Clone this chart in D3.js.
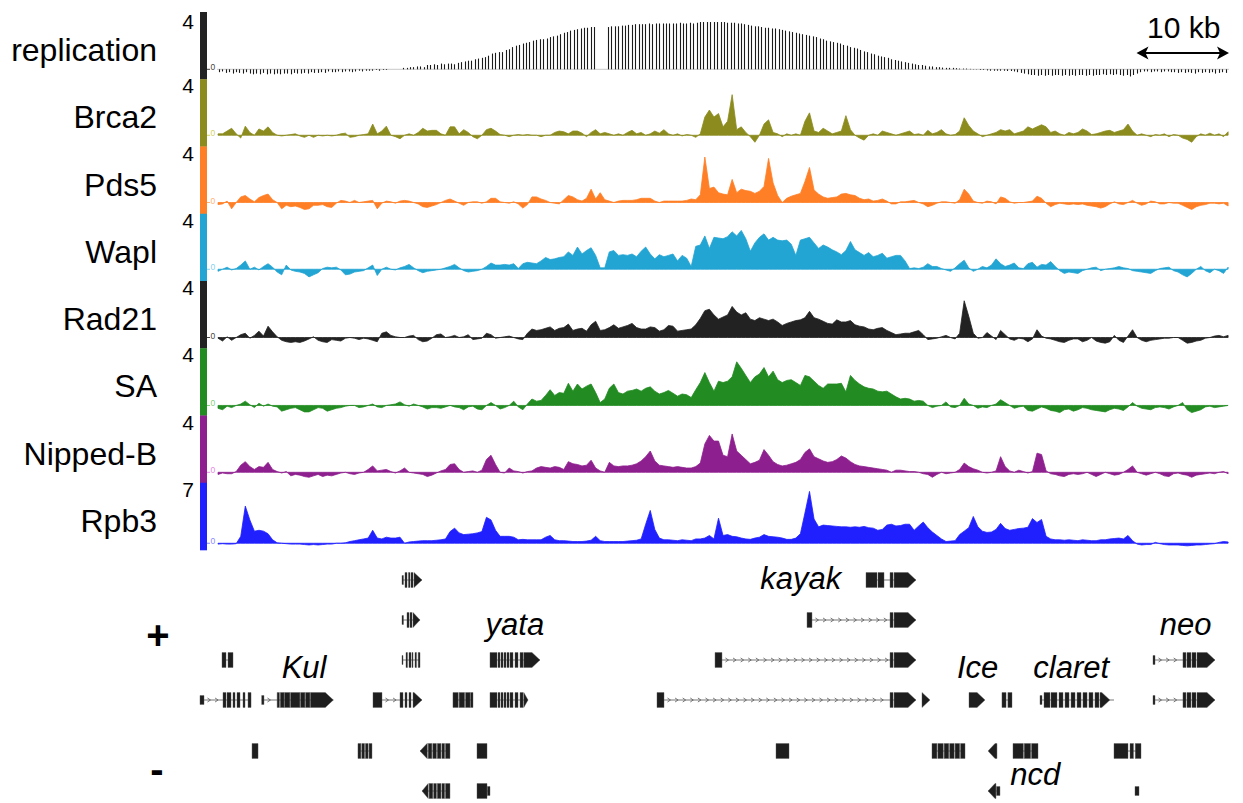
<!DOCTYPE html>
<html><head><meta charset="utf-8">
<script src="https://cdn.jsdelivr.net/npm/d3@7"></script>
<style>body{margin:0;background:#fff}svg{display:block}</style>
</head><body><svg id="c" width="1243" height="803"></svg>
<script>
// ---------------- DATA ----------------
const trackNames = ["replication","Brca2","Pds5","Wapl","Rad21","SA","Nipped-B","Rpb3"];
const trackMax = [4,4,4,4,4,4,4,7];
const trackColors = ["#222222","#8c8c1e","#ff7f27","#22a5d3","#222222","#228b22","#8e1f8e","#2020ff"];
const zeroColors = ["#444444","#d2d26a","#ffb27a","#86d2ee","#444444","#7fd07f","#e48ae4","#8a8aff"];
const signalStepKb = 0.5;   // signal samples every 0.5 kb
const repStepKb = 0.375, repStartKb = 0.1;

const replication = [
-0.2,-0.15,-0.25,-0.2,-0.3,-0.2,-0.25,-0.3,-0.2,-0.3,
-0.35,-0.3,-0.35,-0.25,-0.35,-0.3,-0.35,-0.3,-0.35,-0.3,
-0.3,-0.35,-0.25,-0.3,-0.3,-0.25,-0.3,-0.2,-0.25,-0.25,
-0.2,-0.25,-0.15,-0.2,-0.2,-0.15,-0.2,-0.15,-0.15,-0.2,
-0.15,-0.1,-0.15,-0.1,-0.1,-0.1,-0.05,-0.1,-0.05,-0.05,
null,null,null,null,0.1,0.1,0.15,0.15,0.2,0.2,
0.15,0.3,0.3,0.35,0.3,0.4,0.35,0.4,0.4,0.35,
0.45,0.5,0.55,0.6,0.6,0.7,0.75,0.8,0.85,0.95,
1.1,1.15,1.2,1.2,1.35,1.4,1.55,1.65,1.7,1.8,
1.85,1.9,2.0,2.05,2.1,2.1,2.15,2.25,2.3,2.35,
2.45,2.55,2.6,2.7,2.75,2.8,2.85,2.9,2.9,2.95,
2.95,null,null,null,2.95,3.0,3.0,3.0,3.05,3.05,
3.1,3.1,3.15,3.15,3.15,3.15,3.2,3.15,3.2,3.2,
3.2,3.2,3.2,3.2,3.2,3.25,3.2,3.2,3.25,3.2,
3.25,3.3,3.3,3.3,3.3,3.3,3.3,3.3,3.3,3.25,
3.25,3.25,3.2,3.2,3.15,3.1,3.05,3.0,3.0,2.95,
2.9,2.9,2.85,2.85,2.8,2.75,2.7,2.65,2.6,2.55,
2.5,2.45,2.4,2.35,2.3,2.25,2.15,2.1,2.0,1.95,
1.9,1.85,1.8,1.7,1.65,1.55,1.5,1.45,1.35,1.25,
1.2,1.1,1.05,0.95,0.9,0.85,0.8,0.7,0.65,0.6,
0.55,0.5,0.45,0.4,0.35,0.3,0.3,0.25,0.2,0.2,
0.15,0.15,0.12,0.1,0.1,0.1,0.08,0.05,0.05,0.05,
0.03,0.02,-0.02,-0.05,-0.05,-0.08,-0.1,-0.1,-0.1,-0.1,
-0.1,-0.12,-0.12,-0.15,-0.2,-0.25,-0.3,-0.35,-0.4,-0.4,
-0.45,-0.4,-0.45,-0.4,-0.45,-0.4,-0.4,-0.45,-0.4,-0.45,
-0.4,-0.45,-0.4,-0.4,-0.45,-0.4,-0.45,-0.4,-0.4,-0.35,
-0.4,-0.35,-0.4,-0.35,-0.4,-0.45,-0.4,-0.5,-0.4,-0.3,
-0.2,-0.15,-0.15,-0.2,-0.15,-0.15,-0.2,-0.15,-0.15,-0.2,
-0.2,-0.25,-0.2,-0.25,-0.2,-0.25,-0.3,-0.2,-0.25,-0.2,
-0.25,-0.2,-0.3,-0.25,-0.2,-0.25];

const brca2 = [
0.1,0.1,0.3,0.5,0.1,-0.2,0.65,0.2,0,0.45,
0.3,0.6,0.2,0,-0.05,0,0.05,0.1,-0.05,-0.15,
0,-0.15,0,-0.05,0,-0.05,0,0.1,0.15,-0.15,
-0.1,0,0.05,0.1,0.8,0.1,0.3,0.65,0,-0.1,
-0.25,0,0.1,0,0.2,0.5,0.3,0.35,0.35,0.1,
0,0.6,0.6,0.1,0.4,0.2,-0.1,-0.25,0,0.4,
0.5,0.3,0.05,0,-0.1,0,0.05,0,0.05,0,
0,-0.1,0,0,0.2,0.3,0.25,0.1,0.3,0.3,
0.15,-0.1,0.2,0.4,0.1,0.2,0.1,0,0.1,0,
0.2,0.35,0.1,0.2,0,0.1,0.3,0.15,0.4,0.1,
0,0.1,-0.05,0.05,0,-0.15,0.1,1.3,1.8,1.3,
1.55,0.6,1.0,2.9,0.4,0.6,0.2,-0.1,-0.5,0,
0.8,1.1,0.2,0.1,-0.1,0.1,0,0.1,0,1.0,
1.6,0.3,0.2,0.5,0.3,0.1,0.2,0.3,1.4,0.4,
0,-0.2,-0.35,0,0.1,0,0.3,0.2,0.1,0,
0.1,0.2,0.3,0.05,0.1,0,0.35,0.1,0.2,0.4,
0.1,0,0.05,0.3,1.25,0.7,0.3,0.1,-0.1,0,
0.1,0.2,0.4,0.3,0.4,0.1,0.2,0.3,0.6,0.45,
0.6,0.75,0.6,0.2,0.3,0.1,0,0.2,0.1,0.2,
0.45,0.3,0.05,0.1,0.2,0.3,0.35,0.2,0.3,0.4,
0.8,0.3,0,0.1,0,-0.1,0.05,0,0.1,-0.1,
0.05,0,-0.2,-0.3,-0.5,-0.1,0.1,0,0.15,0,
0.1,-0.1,0.25];

const pds5 = [
-0.15,-0.1,0.1,-0.45,0,0.4,0.5,0.25,0.05,0.35,
0.5,0.6,0.2,0,-0.45,-0.2,-0.3,-0.25,-0.35,-0.5,
-0.45,-0.2,-0.2,-0.15,-0.3,-0.35,-0.05,0.15,0.1,0,
0.15,0,0.05,0.1,0.15,-0.45,-0.05,0.1,0.05,-0.05,
0.1,0.15,0.1,0,-0.1,-0.3,-0.35,-0.25,-0.15,0,
0.15,0.25,0.1,-0.05,-0.2,0,0.05,0.05,-0.05,0.05,
0.3,0.3,0.05,0,-0.05,0.05,-0.1,-0.4,-0.15,0.4,
0.4,0.25,0.15,0,-0.05,-0.1,0.2,0.5,0.4,0.2,
0.1,0.3,0.95,0.25,0.7,0.2,0.1,0,0.1,0.15,
0.15,0.15,0.2,0.3,0.3,0.3,0.1,0,0.1,0.1,
0.1,0.1,0.1,0.15,0.25,0.2,0.55,3.25,1.0,1.1,
0.7,0.6,0.55,1.65,0.7,0.95,0.85,0.8,0.65,0.8,
1.15,3.15,1.4,0.5,0,0.3,0.45,0.55,0.65,1.5,
2.5,0.9,0.6,0.4,0.3,0.35,0.4,0.6,0.65,0.55,
0.5,0.3,0.2,0.25,0.1,0.15,0.25,0.1,-0.1,-0.1,
0.05,0.05,0.1,0.15,0,-0.1,-0.3,-0.2,-0.05,0.05,
0.05,0,-0.05,0.2,0.95,0.6,0.1,0,-0.05,0.1,
0.05,-0.1,0.4,0.3,0.05,-0.05,0,0,0.05,0.1,
0.45,0.3,-0.05,-0.3,-0.15,-0.05,-0.1,-0.15,-0.1,-0.15,
-0.1,-0.2,-0.25,-0.3,-0.4,-0.3,-0.1,0.05,-0.1,-0.15,
0,0.15,-0.05,-0.2,-0.1,0.1,0.05,-0.1,-0.1,0,
-0.05,-0.05,-0.2,-0.35,-0.5,-0.3,-0.2,-0.15,-0.05,-0.05,
-0.1,-0.05,-0.25];

const wapl = [
-0.15,0,0.15,-0.05,0.05,0.3,0.6,0,0.15,-0.05,
0.2,0.4,0.15,-0.2,-0.4,0.3,-0.05,-0.15,-0.2,-0.3,
-0.55,-0.4,-0.25,0.05,0.15,0.1,0.15,-0.05,-0.4,-0.35,
-0.2,-0.15,-0.1,0.1,0.3,-0.45,0,0.15,0,-0.05,
0.1,0.2,0.35,0.1,-0.1,-0.25,-0.15,-0.1,-0.05,0,
0.1,0.2,0.35,0.1,-0.1,-0.2,-0.15,-0.1,0,0.2,
0.45,0.3,0.3,0.35,0.3,0.4,0.05,0.4,0.5,0.45,
0.4,0.6,0.85,0.7,0.75,0.85,0.9,1.25,1.0,1.6,
1.1,1.35,1.55,1.0,0.1,0.1,1.25,1.35,1.0,1.05,
1.0,1.1,0.9,1.3,1.6,1.1,0.75,1.05,0.9,1.0,
1.1,0.6,1.0,0.8,0.2,1.65,1.75,2.4,1.5,2.3,
2.25,2.2,2.35,2.7,2.4,2.8,2.2,1.3,1.9,2.3,
2.55,2.1,2.3,2.1,2.05,2.1,1.8,1.0,2.1,2.2,
2.3,1.9,1.5,1.75,1.6,1.4,1.25,1.05,1.35,2.0,
1.4,1.2,1.0,1.2,0.9,1.0,1.15,0.8,0.9,1.0,
1.0,0.6,0.05,0.1,0.05,0.15,0.4,0.2,0.2,0.05,
-0.05,-0.15,0.1,0.4,0.65,0.1,-0.15,0,0.2,0.1,
0.3,0.75,0.4,0.2,0.3,0.45,0.1,0.05,0.4,0.5,
0.15,0.35,0.3,0.55,0.2,-0.1,-0.3,-0.2,-0.25,-0.3,
-0.1,0,0.1,0.15,-0.1,0,0.05,0.1,0.2,0.1,
0.05,-0.1,-0.15,-0.2,-0.25,-0.3,-0.1,0.05,0.1,0.15,
-0.1,-0.2,-0.4,-0.55,-0.3,0,0.2,-0.1,-0.25,0,
-0.1,-0.3,0.15];

const rad21 = [
-0.05,-0.25,0.05,-0.2,0,0.2,0.3,-0.05,0.15,0.45,
0.1,0.8,0.4,0.05,-0.2,-0.3,-0.35,-0.3,-0.35,-0.25,
-0.1,0.05,-0.2,-0.3,-0.35,-0.15,-0.2,-0.25,-0.05,0,
-0.05,-0.15,-0.05,-0.1,-0.2,-0.3,0.3,0.4,0.15,0.05,
0,0,0.1,0.15,-0.15,-0.3,-0.25,-0.05,0.2,0.25,
0,0.05,0.15,0,0.05,0.2,-0.15,-0.1,-0.05,0.3,
0.2,-0.05,0,0.05,0.1,0,-0.1,-0.15,0.3,0.6,
0.5,0.55,0.65,0.75,0.5,0.65,0.7,0.95,0.5,0.6,
0.65,0.45,0.9,1.15,0.5,0.55,0.7,0.9,0.65,0.75,
0.85,1.0,0.7,0.6,0.6,0.75,0.7,0.45,0.55,0.85,
0.8,0.45,0.5,0.55,0.6,0.9,1.35,1.9,2.0,1.6,
1.3,1.45,1.6,2.2,1.8,1.6,1.75,1.3,1.2,1.4,
1.3,1.2,1.3,1.1,0.85,1.0,1.1,1.2,1.25,1.4,
1.85,1.4,1.3,1.15,1.0,0.95,1.25,1.1,1.1,1.2,
0.9,0.8,0.75,0.6,0.55,0.65,0.7,0.5,0.35,0.2,
0.25,0.3,0.3,0.4,0.5,0.2,-0.15,-0.1,-0.05,0.05,
0.15,0,-0.1,0.3,2.6,1.5,0.3,-0.05,0,0.35,
0.1,-0.15,0.5,0.2,-0.1,-0.2,-0.05,-0.1,-0.3,-0.1,
0.55,0.1,-0.05,-0.1,-0.2,-0.3,-0.35,-0.2,-0.1,-0.1,
-0.3,-0.2,0,-0.25,-0.35,-0.4,-0.3,0.15,-0.2,-0.35,
0.1,0.55,0,-0.2,-0.3,-0.2,-0.15,-0.1,-0.05,-0.05,
0,0,-0.2,-0.4,-0.35,-0.25,-0.2,-0.05,0,0.1,
0.15,0.05,0.15];

const sa = [
-0.2,-0.3,-0.05,-0.15,0,0.1,0.3,0.05,-0.15,0.15,
-0.05,0.1,-0.05,-0.1,-0.4,-0.3,-0.2,-0.15,-0.3,-0.45,
-0.45,-0.3,-0.15,-0.2,-0.4,-0.3,-0.2,-0.15,-0.05,0,
0,-0.15,-0.1,0,0.1,-0.1,-0.15,0,0.05,0.1,
0.25,0.05,-0.05,0.1,0,-0.1,-0.25,-0.15,-0.15,-0.2,
-0.1,0,-0.1,-0.15,-0.3,-0.1,-0.05,-0.25,-0.3,0,
0.2,0,-0.25,-0.15,0,0.3,-0.1,-0.3,0.1,0.45,
0.3,0.35,0.7,1.1,0.7,0.9,0.85,1.55,1.0,1.5,
1.15,1.35,1.5,0.9,0.2,0.45,1.2,1.5,0.9,0.8,
1.0,1.05,1.15,1.0,1.2,1.3,1.0,0.8,0.9,1.05,
0.85,0.65,0.8,0.75,0.55,1.1,1.6,2.3,1.6,1.0,
1.7,1.6,1.7,2.0,3.05,2.6,2.1,1.6,2.0,2.2,
2.65,2.0,2.4,1.8,1.6,1.75,1.8,1.6,1.4,2.1,
2.0,1.7,1.4,1.2,1.5,1.5,1.5,1.55,0.95,2.1,
1.75,1.5,1.3,1.2,1.15,1.0,0.95,1.0,0.8,0.6,
0.45,0.5,0.45,0.3,0.35,0.3,0,-0.15,-0.05,0,
0.25,-0.1,-0.15,0,0.5,0.1,0,-0.2,-0.1,-0.15,
0,0.1,0.4,0.2,0,-0.2,-0.1,-0.05,-0.35,-0.4,
-0.25,-0.1,-0.2,-0.35,-0.4,-0.5,-0.3,-0.25,-0.4,-0.3,
-0.15,-0.2,-0.3,-0.35,-0.4,-0.45,-0.3,-0.2,-0.25,-0.35,
-0.1,0.2,-0.05,-0.2,-0.25,-0.3,-0.15,-0.1,-0.15,-0.25,
-0.1,0,0.2,-0.3,-0.5,-0.4,-0.3,-0.1,-0.05,-0.15,
-0.1,-0.05,0];

const nippedB = [
-0.15,-0.05,-0.1,-0.1,0.05,0.5,0.75,0.4,0.2,0.4,
0.35,0.7,0.2,0.05,-0.05,0.05,-0.25,-0.15,-0.2,-0.3,
-0.35,-0.25,-0.15,-0.3,-0.2,-0.25,-0.15,-0.05,0,-0.1,
-0.15,-0.05,0,0.2,0.45,0.1,0.15,0.2,0.05,-0.05,
0.1,0.3,0,-0.05,-0.1,-0.15,-0.3,-0.2,-0.05,0.1,
0.2,0.55,0.6,0.2,0,0.05,0.1,0,0.15,0.9,
1.2,0.55,0,-0.05,0.3,0.1,0.05,-0.05,0.05,0.1,
0.3,0.4,0.35,0.3,0.4,0.35,0.2,0.75,0.6,0.55,
0.45,0.5,0.85,0.3,0.1,0,0.7,0.45,0.4,0.45,
0.45,0.5,0.6,0.8,1.1,1.5,0.8,0.5,0.45,0.4,
0.35,0.4,0.35,0.3,0.3,0.4,0.65,2.0,2.6,2.2,
2.2,1.2,1.1,2.7,1.5,1.2,0.9,0.6,0.7,0.85,
1.6,1.2,0.75,0.55,0.45,0.5,0.6,0.7,0.9,1.4,
1.65,1.1,0.95,0.8,0.7,0.75,0.9,1.15,1.0,0.75,
0.55,0.45,0.4,0.35,0.3,0.25,0.2,0.15,0,0.15,
0.15,0.1,0.05,0.05,0,-0.1,-0.15,-0.35,-0.15,0,
-0.1,-0.05,0,0.2,0.65,0.4,0.25,0.15,0,-0.05,
0,0.1,1.1,0.4,0.1,0,0.15,0.05,-0.05,0.05,
1.35,1.25,0.1,-0.1,-0.15,-0.25,-0.3,-0.15,-0.1,-0.15,
-0.1,0,-0.15,-0.3,-0.15,0,-0.1,-0.2,-0.15,0,
0.2,0.45,0,-0.1,-0.2,-0.1,0,-0.1,-0.25,-0.3,
-0.1,-0.05,-0.15,-0.2,-0.35,-0.2,-0.15,-0.1,-0.05,-0.1,
0,0.05,-0.1];

const rpb3 = [
-0.1,-0.05,-0.1,-0.1,-0.05,0.8,4.3,2.7,1.4,1.5,
1.4,1.1,0.4,0.05,0,-0.05,-0.1,-0.1,-0.1,-0.15,
-0.2,-0.15,-0.2,-0.15,-0.1,-0.1,0,0,0.05,0.2,
0.3,0.4,0.5,0.6,1.5,0.6,0.5,0.7,0.6,0.6,
0.7,0,0.15,0.2,0.25,0.3,0.3,0.3,0.35,0.4,
0.5,1.35,1.75,1.2,1.0,1.05,1.1,1.2,1.35,3.0,
2.7,1.5,0.8,0.8,0.8,0.7,0.4,0.45,0.4,0.4,
0.4,0.4,0.7,0.9,0.4,0.3,0.3,0.25,0.2,0.2,
0.2,0.25,0.35,0.8,0.3,0.2,0.2,0.2,0.2,0.2,
0.25,0.3,0.35,0.5,2.2,3.8,1.6,0.6,0.4,0.4,
0.35,0.3,0.4,0.35,0.3,0.5,0.5,0.6,0.9,0.5,
2.9,0.9,1.0,0.8,0.75,0.6,0.5,0.45,0.6,0.7,
1.0,0.8,0.75,0.7,0.6,0.45,0.45,0.6,1.1,3.5,
6.0,2.8,1.9,2.1,2.05,2.0,1.95,1.9,1.9,1.85,
1.9,1.85,1.95,1.8,1.75,1.5,1.6,2.1,2.2,2.0,
2.05,2.2,2.2,1.5,2.0,2.45,1.8,1.3,0.9,0.5,
0.2,0.25,0.3,1.0,1.4,1.8,3.1,1.9,1.4,1.25,
1.3,1.6,2.3,1.7,1.5,1.6,1.7,1.75,1.85,2.85,
2.4,2.75,0.8,0.5,0.4,0.4,0.35,0.4,0.35,0.3,
0.4,0.35,0.3,0.3,0.4,0.4,0.5,0.55,0.6,0.5,
0.9,0.3,-0.1,-0.2,-0.15,-0.15,0.1,-0.05,-0.15,-0.2,
-0.2,-0.2,-0.25,-0.3,-0.25,-0.2,-0.2,-0.15,-0.1,-0.05,
0.1,0.2,0.15];

// gene models: row (0-3 plus strand, 4-5 minus strand), exons [startKb, endKb, isUTR], tip = pointed end
const geneRowsStrand = [1,1,1,1,-1,-1];
const genes = [
 {row:3, ex:[[-1.98,-1.54,1],[0.55,0.88],[0.99,1.43],[1.65,1.87],[2.09,2.42],[2.75,2.97],[3.30,3.63]]},
 {row:2, ex:[[0.44,0.88],[1.1,1.65]]},
 {row:3, tip:"r", ex:[[4.8,5.05,1],[6.5,6.75],[6.85,7.25],[7.3,7.9],[7.97,9.0],[9.07,9.55],[9.62,10.1],[10.16,12.67]]},
 {row:0, tip:"r", ex:[[20.22,20.38,1],[20.55,20.77],[20.93,21.1],[21.21,21.43],[21.54,22.42]]},
 {row:1, tip:"r", ex:[[20.22,20.38,1],[20.77,20.99],[21.1,21.32],[21.43,22.2]]},
 {row:2, ex:[[20.22,20.33,1],[20.66,20.82],[20.99,21.21],[21.32,21.43],[21.65,21.81],[22.0,22.2]]},
 {row:3, tip:"r", ex:[[17.03,18.02],[20.0,20.33],[20.55,20.77],[20.99,21.21],[21.43,22.42]]},
 {row:3, ex:[[25.82,26.4],[26.5,27.1],[27.2,27.7],[27.75,28.02]]},
 {row:2, tip:"r", ex:[[29.89,30.66],[30.77,30.99],[31.1,31.32],[31.43,31.65],[31.76,31.98],[32.09,32.42],[32.64,32.97],[33.19,33.52],[33.6,35.38]]},
 {row:3, tip:"r", ex:[[29.89,30.66],[30.77,30.99],[31.1,31.32],[31.43,31.65],[31.76,31.98],[32.09,32.42],[32.64,32.97],[33.19,33.52],[33.6,34.07]]},
 {row:0, tip:"r", ex:[[71.21,72.42],[72.53,73.19],[73.85,74.18],[74.29,76.70]]},
 {row:1, tip:"r", ex:[[64.73,65.27],[73.85,74.18],[74.29,76.70]]},
 {row:2, tip:"r", ex:[[54.62,55.38],[73.85,74.18],[74.29,76.70]]},
 {row:3, tip:"r", ex:[[48.24,49.01],[73.85,74.18],[74.29,76.70]]},
 {row:3, tip:"r", ex:[[77.36,78.24]]},
 {row:3, tip:"r", ex:[[82.53,84.29]]},
 {row:3, ex:[[86.15,86.6],[86.8,87.25]]},
 {row:3, tip:"r", end:98.46, ex:[[90.33,90.55,1],[90.77,91.43],[91.54,92.2],[92.42,92.86],[93.08,93.52],[93.74,94.18],[94.4,94.84],[95.05,95.5],[95.71,96.15],[96.37,96.81],[96.92,98.0]]},
 {row:2, tip:"r", ex:[[102.75,102.97,1],[106.04,106.37],[106.48,106.92],[107.03,107.47],[107.58,109.56]]},
 {row:3, tip:"r", ex:[[102.75,102.97,1],[106.04,106.37],[106.48,106.92],[107.03,107.47],[107.58,109.56]]},
 {row:4, ex:[[3.74,4.40]]},
 {row:4, ex:[[15.38,15.7],[15.8,16.1],[16.2,16.5],[16.6,16.92]]},
 {row:4, tip:"l", ex:[[22.2,23.0],[23.1,23.5],[23.6,24.0],[24.1,24.5],[24.6,24.9],[25.0,25.49]]},
 {row:4, ex:[[28.46,29.56]]},
 {row:5, tip:"l", ex:[[22.42,23.1],[23.2,23.6],[23.7,24.0],[24.1,24.5],[24.6,24.9],[25.0,25.49]]},
 {row:5, ex:[[28.46,29.56],[29.6,29.89,1]]},
 {row:4, ex:[[61.32,62.75]]},
 {row:4, ex:[[78.46,79.0],[79.1,79.7],[79.8,80.3],[80.4,80.9],[81.0,81.5],[81.6,82.09]]},
 {row:4, tip:"l", ex:[[84.62,85.6]]},
 {row:4, ex:[[87.36,88.5],[88.6,89.3],[89.4,90.11]]},
 {row:4, ex:[[98.46,100.0],[100.22,100.6],[100.8,101.43]]},
 {row:5, tip:"l", ex:[[84.62,85.49],[85.55,85.93,1]]},
 {row:5, ex:[[100.77,101.21,1]]}
];
const geneLabels = [
 {name:"kayak", kb:59.6, row:0, dy:9},
 {name:"yata", kb:29.4, row:1, dy:15},
 {name:"Kul", kb:7.0, row:2, dy:18},
 {name:"neo", kb:103.5, row:1, dy:15},
 {name:"Ice", kb:81.2, row:2, dy:18},
 {name:"claret", kb:89.6, row:2, dy:18},
 {name:"ncd", kb:87.05, row:5, dy:-6}
];
const scaleBarKb = 10;

// ---------------- DRAW ----------------
const svg = d3.select("#c");
const FONT = "'Liberation Sans', Arial, Helvetica, sans-serif";
const x = d3.scaleLinear().domain([0, 111]).range([218, 1228.1]);
const TOP = 12, TH = 67.25;
const signals = [replication, brca2, pds5, wapl, rad21, sa, nippedB, rpb3];
const baseOff = [57.3, 56, 56, 55.5, 56.5, 57.2, 56.8, 60.5];

signals.forEach((data, k) => {
  const top = TOP + k * TH, base = top + baseOff[k];
  const y = d3.scaleLinear().domain([0, trackMax[k]]).range([base, top]);
  svg.append("rect").attr("x", 200).attr("y", top).attr("width", 7).attr("height", TH + 0.3)
     .attr("fill", trackColors[k]);
  svg.append("text").attr("x", 157).attr("y", top + 49).attr("text-anchor", "end")
     .attr("font-family", FONT).attr("font-size", 32).attr("fill", "#000").text(trackNames[k]);
  svg.append("text").attr("x", 194).attr("y", top + (k === 0 ? 17 : 14)).attr("text-anchor", "end")
     .attr("font-family", FONT).attr("font-size", 21).attr("fill", "#000").text(trackMax[k]);
  svg.append("line").attr("x1", 207).attr("x2", 210).attr("y1", base).attr("y2", base)
     .attr("stroke", zeroColors[k]).attr("stroke-width", 1);
  svg.append("text").attr("x", 210.5).attr("y", base + 1).attr("font-family", FONT).attr("font-size", 8.5)
     .attr("fill", zeroColors[k]).text("0");
  if (k === 0) {
    svg.append("line").attr("x1", 217).attr("x2", 1229).attr("y1", base).attr("y2", base)
       .attr("stroke", "#c8c8c8").attr("stroke-width", 1);
    svg.append("g").selectAll("line").data(data.map((v, j) => ({kb: repStartKb + j * repStepKb, v})).filter(d => d.v !== null))
      .join("line")
      .attr("x1", d => Math.round(x(d.kb)) + 0.5).attr("x2", d => Math.round(x(d.kb)) + 0.5)
      .attr("y1", y(0)).attr("y2", d => y(d.v))
      .attr("stroke", "#1a1a1a").attr("stroke-width", 1.1);
  } else {
    const pts = data.map((v, i) => [i * signalStepKb, v]);
    const area = d3.area().x(d => x(d[0])).y0(y(0)).y1(d => y(d[1]));
    svg.append("path").datum(pts).attr("d", area).attr("fill", trackColors[k])
       .attr("stroke", trackColors[k]).attr("stroke-width", 0.8).attr("stroke-linejoin", "round");
  }
});

// scale bar
const sbY = 53, sbL = 1136.5, sbR = 1229;
svg.append("line").attr("x1", sbL + 6).attr("x2", sbR - 6).attr("y1", sbY).attr("y2", sbY)
   .attr("stroke", "#000").attr("stroke-width", 2.2);
svg.append("path").attr("d", `M${sbL},${sbY} L${sbL + 12},${sbY - 6.5} L${sbL + 9},${sbY} L${sbL + 12},${sbY + 6.5} Z`).attr("fill", "#000");
svg.append("path").attr("d", `M${sbR},${sbY} L${sbR - 12},${sbY - 6.5} L${sbR - 9},${sbY} L${sbR - 12},${sbY + 6.5} Z`).attr("fill", "#000");
svg.append("text").attr("x", (sbL + sbR) / 2 + 1).attr("y", 37.5).attr("text-anchor", "middle")
   .attr("font-family", FONT).attr("font-size", 30).text(scaleBarKb + " kb");

// genes
const rowY = [580, 620, 660, 700, 751, 791];
const gG = svg.append("g");
genes.forEach(g => {
  const yc = rowY[g.row], strand = geneRowsStrand[g.row];
  const s = x(g.ex[0][0]), e = x(g.end !== undefined ? g.end : g.ex[g.ex.length - 1][1]);
  if (g.ex.length > 1 || g.end !== undefined)
    gG.append("line").attr("x1", s).attr("x2", e).attr("y1", yc).attr("y2", yc).attr("stroke", "#777").attr("stroke-width", 1);
  for (let k = 0; k < g.ex.length - 1; k++) {
    const a = x(g.ex[k][1]), b = x(g.ex[k + 1][0]);
    if (b - a > 9) {
      for (let cx = a + 5; cx < b - 3; cx += 7.6) {
        const d = strand > 0 ? `M${cx - 1.5},${yc - 2} L${cx + 1.5},${yc} L${cx - 1.5},${yc + 2}`
                             : `M${cx + 1.5},${yc - 2} L${cx - 1.5},${yc} L${cx + 1.5},${yc + 2}`;
        gG.append("path").attr("d", d).attr("fill", "none").attr("stroke", "#666").attr("stroke-width", 0.9);
      }
    }
  }
  g.ex.forEach((ex, k) => {
    const a = x(ex[0]), b = x(ex[1]);
    const h = ex[2] ? 9 : 15;
    const t = yc - h / 2, bt = yc + h / 2;
    let d;
    if (g.tip === "r" && k === g.ex.length - 1) {
      const tl = Math.min(8, b - a);
      d = `M${a},${t} L${b - tl},${t} L${b},${yc} L${b - tl},${bt} L${a},${bt} Z`;
    } else if (g.tip === "l" && k === 0) {
      const tl = Math.min(7, b - a);
      d = `M${a},${yc} L${a + tl},${t} L${b},${t} L${b},${bt} L${a + tl},${bt} Z`;
    } else {
      d = `M${a},${t} L${b},${t} L${b},${bt} L${a},${bt} Z`;
    }
    gG.append("path").attr("d", d).attr("fill", "#1e1e1e").attr("stroke", "#555").attr("stroke-width", 0.4);
  });
});
geneLabels.forEach(l => {
  svg.append("text").attr("x", x(l.kb)).attr("y", rowY[l.row] + l.dy)
     .attr("font-family", FONT).attr("font-style", "italic").attr("font-size", 31).text(l.name);
});
svg.append("text").attr("x", 158).attr("y", 649).attr("text-anchor", "middle").attr("font-family", FONT)
   .attr("font-weight", "bold").attr("font-size", 40).text("+");
svg.append("text").attr("x", 157).attr("y", 783).attr("text-anchor", "middle").attr("font-family", FONT)
   .attr("font-weight", "bold").attr("font-size", 40).text("-");
</script></body></html>
